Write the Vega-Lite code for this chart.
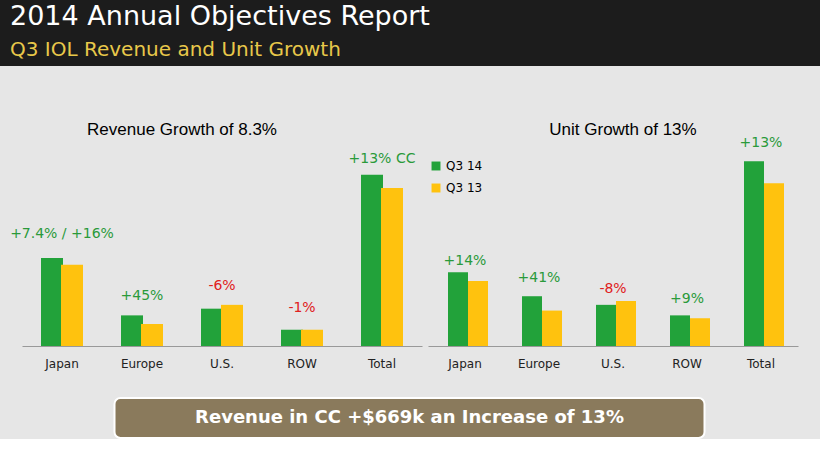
{
  "$schema": "https://vega.github.io/schema/vega-lite/v6.json",
  "background": "#e6e6e6",
  "padding": 0,
  "spacing": 12,
  "center": true,
  "config": {
    "font": "DejaVu Sans",
    "view": {"stroke": null},
    "axis": {"labelFont": "DejaVu Sans", "labelFontSize": 12, "labelColor": "#222"}
  },
  "datasets": {
    "rev": [
      {"region": "Japan", "period": "Q3 14", "value": 92},
      {"region": "Japan", "period": "Q3 13", "value": 85},
      {"region": "Europe", "period": "Q3 14", "value": 32},
      {"region": "Europe", "period": "Q3 13", "value": 23},
      {"region": "U.S.", "period": "Q3 14", "value": 39},
      {"region": "U.S.", "period": "Q3 13", "value": 43},
      {"region": "ROW", "period": "Q3 14", "value": 17},
      {"region": "ROW", "period": "Q3 13", "value": 17},
      {"region": "Total", "period": "Q3 14", "value": 179},
      {"region": "Total", "period": "Q3 13", "value": 165}
    ],
    "revlab": [
      {"region": "Japan", "label": "+7.4% / +16%", "pos": 110, "sign": "pos"},
      {"region": "Europe", "label": "+45%", "pos": 45, "sign": "pos"},
      {"region": "U.S.", "label": "-6%", "pos": 55, "sign": "neg"},
      {"region": "ROW", "label": "-1%", "pos": 32, "sign": "neg"},
      {"region": "Total", "label": "+13% CC", "pos": 188, "sign": "pos"}
    ],
    "unit": [
      {"region": "Japan", "period": "Q3 14", "value": 77},
      {"region": "Japan", "period": "Q3 13", "value": 68},
      {"region": "Europe", "period": "Q3 14", "value": 52},
      {"region": "Europe", "period": "Q3 13", "value": 37},
      {"region": "U.S.", "period": "Q3 14", "value": 43},
      {"region": "U.S.", "period": "Q3 13", "value": 47},
      {"region": "ROW", "period": "Q3 14", "value": 32},
      {"region": "ROW", "period": "Q3 13", "value": 29},
      {"region": "Total", "period": "Q3 14", "value": 193},
      {"region": "Total", "period": "Q3 13", "value": 170}
    ],
    "unitlab": [
      {"region": "Japan", "label": "+14%", "pos": 82, "sign": "pos"},
      {"region": "Europe", "label": "+41%", "pos": 64, "sign": "pos"},
      {"region": "U.S.", "label": "-8%", "pos": 52, "sign": "neg"},
      {"region": "ROW", "label": "+9%", "pos": 42, "sign": "pos"},
      {"region": "Total", "label": "+13%", "pos": 205, "sign": "pos"}
    ]
  },
  "vconcat": [
    {
      "width": 820,
      "height": 66,
      "view": {"fill": "#1c1c1c"},
      "data": {"values": [
        {"t": "2014 Annual Objectives Report", "row": 0, "c": "#ffffff", "s": 27},
        {"t": "Q3 IOL Revenue and Unit Growth", "row": 1, "c": "#e8c84a", "s": 20}
      ]},
      "mark": {"type": "text", "align": "left", "baseline": "middle", "x": 10},
      "encoding": {
        "y": {"field": "row", "type": "ordinal", "axis": null, "scale": {"paddingOuter": 0.1}},
        "text": {"field": "t"},
        "color": {"field": "c", "type": "nominal", "scale": null},
        "size": {"field": "s", "type": "quantitative", "scale": null}
      }
    },
    {
      "spacing": 6,
      "resolve": {"scale": {"color": "independent"}, "legend": {"color": "independent"}},
      "hconcat": [
        {
          "width": 400,
          "height": 268,
          "layer": [
            {
              "data": {"name": "rev"},
              "mark": {"type": "bar", "width": 22},
              "encoding": {
                "x": {"field": "region", "type": "nominal", "sort": null, "title": " ",
                      "scale": {"paddingInner": 0, "paddingOuter": 0},
                      "axis": {"labelAngle": 0, "domainColor": "#999", "ticks": false, "labelPadding": 12, "titleFontSize": 14, "titlePadding": 2}},
                "xOffset": {"field": "period", "sort": ["Q3 14", "Q3 13"], "scale": {"paddingOuter": 1.4}},
                "y": {"field": "value", "type": "quantitative", "axis": null, "scale": {"domain": [0, 268]}},
                "color": {"field": "period", "sort": ["Q3 14", "Q3 13"],
                          "scale": {"domain": ["Q3 14", "Q3 13"], "range": ["#22a23a", "#ffc20e"]}, "legend": null}
              }
            },
            {
              "data": {"name": "revlab"},
              "mark": {"type": "text", "fontSize": 14, "baseline": "bottom"},
              "encoding": {
                "x": {"field": "region", "type": "nominal", "sort": null},
                "y": {"field": "pos", "type": "quantitative"},
                "text": {"field": "label"},
                "color": {"condition": {"test": "datum.sign === 'neg'", "value": "#e02020"}, "value": "#2a9a3a"}
              }
            },
            {
              "data": {"values": [{"region": "ROW", "t": "Revenue  Growth of 8.3%", "pos": 226}]},
              "mark": {"type": "text", "fontSize": 17, "font": "Liberation Sans", "dx": -120, "color": "#000"},
              "encoding": {
                "x": {"field": "region", "type": "nominal", "sort": null},
                "y": {"field": "pos", "type": "quantitative"},
                "text": {"field": "t"}
              }
            }
          ]
        },
        {
          "width": 370,
          "height": 268,
          "layer": [
            {
              "data": {"name": "unit"},
              "mark": {"type": "bar", "width": 20},
              "encoding": {
                "x": {"field": "region", "type": "nominal", "sort": null, "title": " ",
                      "scale": {"paddingInner": 0, "paddingOuter": 0},
                      "axis": {"labelAngle": 0, "domainColor": "#999", "ticks": false, "labelPadding": 12, "titleFontSize": 14, "titlePadding": 2}},
                "xOffset": {"field": "period", "sort": ["Q3 14", "Q3 13"], "scale": {"paddingOuter": 1.4}},
                "y": {"field": "value", "type": "quantitative", "axis": null, "scale": {"domain": [0, 268]}},
                "color": {"field": "period", "type": "nominal", "sort": ["Q3 14", "Q3 13"],
                          "scale": {"domain": ["Q3 14", "Q3 13"], "range": ["#22a23a", "#ffc20e"]},
                          "legend": {"title": null, "orient": "none", "legendX": 2, "legendY": 82, "symbolType": "square", "symbolSize": 80, "labelFontSize": 12, "rowPadding": 10, "direction": "vertical", "padding": 0}}
              }
            },
            {
              "data": {"name": "unitlab"},
              "mark": {"type": "text", "fontSize": 14, "baseline": "bottom"},
              "encoding": {
                "x": {"field": "region", "type": "nominal", "sort": null},
                "y": {"field": "pos", "type": "quantitative"},
                "text": {"field": "label"},
                "color": {"condition": {"test": "datum.sign === 'neg'", "value": "#e02020"}, "value": "#2a9a3a"}
              }
            },
            {
              "data": {"values": [{"region": "U.S.", "t": "Unit  Growth of 13%", "pos": 226}]},
              "mark": {"type": "text", "fontSize": 17, "font": "Liberation Sans", "dx": 10, "color": "#000"},
              "encoding": {
                "x": {"field": "region", "type": "nominal", "sort": null},
                "y": {"field": "pos", "type": "quantitative"},
                "text": {"field": "t"}
              }
            }
          ]
        }
      ]
    },
    {
      "width": 590,
      "height": 40,
      "view": {"fill": "#8a7a5c", "stroke": "#ffffff", "strokeWidth": 2, "cornerRadius": 6},
      "data": {"values": [{"t": "Revenue in CC +$669k an Increase of 13%"}]},
      "mark": {"type": "text", "fontSize": 18, "fontWeight": "bold", "color": "#ffffff"},
      "encoding": {"text": {"field": "t"}}
    }
  ]
}
